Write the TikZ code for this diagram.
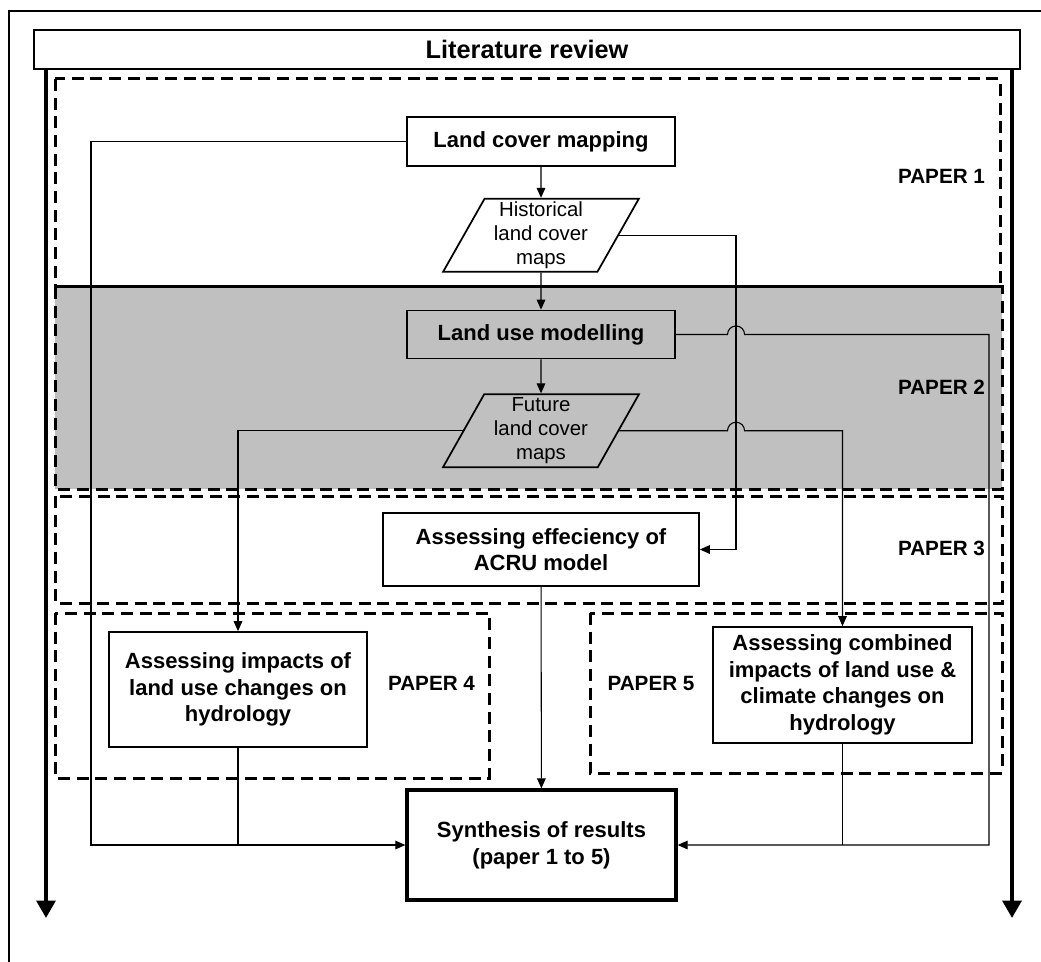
\documentclass[tikz,border=0pt]{standalone}
\usepackage{fontspec}
\setmainfont{Liberation Sans}
\usetikzlibrary{positioning}
\usetikzlibrary{calc}
\usetikzlibrary{shapes.geometric}
\usetikzlibrary {arrows.meta}
\definecolor{papergrey}{HTML}{C0C0C0}
\tikzset{taskbox/.style={rectangle,draw=black,line width=1.3pt,
inner sep=2pt,align=center,font=\fontsize{16.5}{20}\selectfont\bfseries}}
\tikzset{mapbox/.style={trapezium,trapezium left angle=63,trapezium right angle=117,
trapezium stretches=true,draw=black,line width=1.3pt,inner sep=1pt,
minimum width=147pt,minimum height=54.75pt,align=center,font=\fontsize{15.3}{18}\selectfont}}
\tikzset{paperarea/.style={draw=black,line width=2.25pt,dash pattern=on 9pt off 5pt}}
\tikzset{paperlabel/.style={inner sep=0pt,font=\fontsize{15.5}{18}\selectfont\bfseries}}
\tikzset{flow/.style={line width=0.8pt,-{Triangle[length=7.5pt,width=6.5pt]}}}
\tikzset{feed/.style={line width=0.8pt}}

\begin{document}
\begin{tikzpicture}[x=0.75pt,y=-0.75pt]
    \useasboundingbox (0,0) rectangle (1041,962);
    \draw [line width=1.5pt] (9,962) -- (9,11) -- (1041,11);

    % paper areas
    \fill [papergrey] (55,287) rectangle (1002,489);
    \draw [paperarea] (55,79) rectangle (1000,287);
    \draw [paperarea] (55,287) rectangle (1002,489);
    \draw [paperarea] (55,496) rectangle (1002,603);
    \draw [paperarea] (55,613) rectangle (489,778);
    \draw [paperarea] (590,613) rectangle (1002,773);

    \node[paperlabel] (lab1) at (941.5,176) {PAPER 1};
    \node[paperlabel] (lab2) at (941.5,387.5) {PAPER 2};
    \node[paperlabel] (lab3) at (941.5,548) {PAPER 3};
    \node[paperlabel] (lab4) at (431.5,683.5) {PAPER 4};
    \node[paperlabel] (lab5) at (651,683.5) {PAPER 5};

    \node[rectangle,draw=black,fill=white,line width=1.3pt,minimum width=739.5pt,minimum height=29.25pt,
        font=\fontsize{19}{22}\selectfont\bfseries] (lit) at (527,49.5) {Literature review};

    \node[taskbox,minimum width=201pt,minimum height=36.75pt] (lcm) at (541,141.5) {Land cover mapping};
    \node[mapbox] (hist) [below=23.25pt of lcm] {Historical\\land cover\\maps};
    \node[taskbox,minimum width=201pt,minimum height=36pt] (lum) [below=27.75pt of hist] {Land use modelling};
    \node[mapbox] (fut) [below=25.5pt of lum] {Future\\land cover\\maps};
    \node[taskbox,minimum width=237pt,minimum height=54.75pt] (acru) at (541,549.5) {Assessing effeciency of\\ACRU model};
    \node[taskbox,minimum width=193.5pt,minimum height=86.25pt] (imp) at (238,689.5) {Assessing impacts of\\land use changes on\\hydrology};
    \node[taskbox,minimum width=194.25pt,minimum height=87pt] (comb) at (842.5,685) {Assessing combined\\impacts of land use \&\\climate changes on\\hydrology};
    \node[taskbox,line width=2.5pt,minimum width=201.75pt,minimum height=82.5pt] (synth) at (541.5,845) {Synthesis of results\\(paper 1 to 5)};

    % side arrows
    \coordinate (litL) at (46,69);
    \coordinate (endL) at (46,918);
    \coordinate (litR) at (1012,69);
    \coordinate (endR) at (1012,918);
    \draw [line width=3pt,-{Triangle[length=13pt,width=14pt]}] (litL) -- (endL);
    \draw [line width=3pt,-{Triangle[length=13pt,width=14pt]}] (litR) -- (endR);

    \coordinate (leftx) at (91,0);
    \coordinate (jumpx) at (736,0);
    \coordinate (rightx) at (989,0);

    \draw [flow] (lcm) -- (hist);
    \draw [flow] (hist) -- (lum);
    \draw [flow] (lum) -- (fut);
    \draw [flow] (acru) -- (synth);

    \draw [flow] (hist.right side) -- (hist.right side -| jumpx) |- (acru.east);
    \draw [flow] (lum.east) -- ($(lum.east -| jumpx)+(-8.5,0)$) arc[start angle=180,end angle=0,radius=6.4pt]
        -- (lum.east -| rightx) |- (synth.east);
    \draw [flow] (fut.right side) -- ($(fut.right side -| jumpx)+(-8.5,0)$) arc[start angle=180,end angle=0,radius=6.4pt]
        -| (comb.north);
    \draw [flow] (fut.left side) -| (imp.north);
    \draw [flow] (lcm.west) -- (lcm.west -| leftx) |- (synth.west);
    \draw [feed] (imp.south) -- (imp.south |- synth.west);
    \draw [feed] (comb.south) -- (comb.south |- synth.east);
\end{tikzpicture}
\end{document}
